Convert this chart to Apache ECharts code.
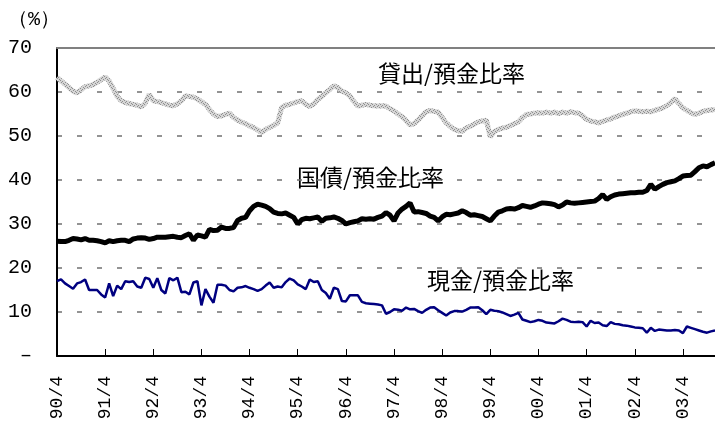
<!DOCTYPE html>
<html><head><meta charset="utf-8">
<script src="https://cdn.jsdelivr.net/npm/echarts@6/dist/echarts.min.js"></script>
<style>html,body{margin:0;padding:0;background:#fff}#c{width:715px;height:423px}</style>
</head><body><div id="c"></div>
<script>
const startYear = 1990, startMonth = 4, monthCount = 165;
const seriesNames = ['貸出/預金比率', '国債/預金比率', '現金/預金比率'];
const unitLabel = '（%）';
const yMin = 0, yMax = 70, yStep = 10;

const loanRatio = [
63.3, 62.5, 61.8, 61.0, 60.2, 59.8, 60.5, 61.2, 61.4, 61.7,
62.2, 62.8, 63.4, 62.5, 60.8, 59.0, 58.0, 57.6, 57.4, 57.2,
57.0, 56.6, 57.5, 59.5, 58.0, 57.8, 57.6, 57.3, 57.0, 56.9,
57.3, 58.0, 59.1, 59.0, 58.8, 58.4, 57.8, 57.2, 56.0, 55.0,
54.4, 54.6, 54.9, 55.2, 54.2, 53.6, 53.2, 52.8, 52.3, 51.9,
51.4, 50.8, 51.5, 52.0, 52.4, 53.0, 56.5, 57.0, 57.2, 57.5,
57.8, 58.0, 57.2, 56.7, 57.3, 58.3, 59.0, 59.8, 60.6, 61.4,
61.0, 60.2, 59.8, 59.1, 57.8, 56.8, 57.0, 57.2, 57.0, 56.9,
56.8, 56.9, 56.8, 56.2, 55.7, 55.0, 54.4, 53.5, 52.5, 52.8,
53.6, 54.6, 55.5, 55.8, 55.6, 55.4, 54.2, 53.0, 52.2, 51.5,
51.2, 51.1, 51.8, 52.2, 52.7, 53.2, 53.4, 53.6, 49.8, 51.0,
51.5, 51.8, 52.0, 52.4, 52.8, 53.2, 54.2, 54.9, 55.0, 55.2,
55.3, 55.2, 55.4, 55.2, 55.4, 55.1, 55.4, 55.2, 55.5, 55.3,
55.2, 54.6, 53.8, 53.4, 53.2, 53.0, 53.3, 53.6, 53.9, 54.3,
54.6, 54.9, 55.2, 55.5, 55.7, 55.6, 55.5, 55.6, 55.5, 55.8,
56.1, 56.4, 56.9, 57.6, 58.5, 57.4, 56.4, 55.8, 55.3, 54.9,
55.2, 55.6, 55.8, 55.9, 56.0
];

const jgbRatio = [
26.1, 26.0, 26.0, 26.3, 26.7, 26.6, 26.4, 26.7, 26.3, 26.3,
26.2, 26.0, 25.7, 26.2, 26.0, 26.2, 26.3, 26.3, 26.0, 26.6,
26.8, 26.9, 26.8, 26.5, 26.7, 27.0, 27.0, 27.0, 27.1, 27.2,
27.0, 26.9, 27.4, 27.8, 26.3, 27.5, 27.3, 27.0, 28.8, 28.5,
28.6, 29.3, 29.0, 29.0, 29.2, 30.8, 31.3, 31.5, 33.0, 34.0,
34.5, 34.3, 34.0, 33.5, 32.7, 32.4, 32.3, 32.5, 32.0, 31.5,
30.0, 31.0, 31.3, 31.2, 31.4, 31.6, 30.6, 31.3, 31.4, 31.6,
31.3, 30.8, 30.0, 30.3, 30.5, 30.7, 31.2, 31.1, 31.2, 31.1,
31.5, 31.8, 32.6, 32.0, 30.7, 32.5, 33.4, 34.0, 34.8, 32.7,
32.8, 32.6, 32.4, 31.8, 31.5, 30.7, 31.6, 32.2, 32.1, 32.3,
32.5, 33.0, 32.6, 32.0, 32.1, 31.9, 31.7, 31.2, 30.7, 31.8,
32.7, 33.0, 33.4, 33.5, 33.4, 33.7, 34.2, 34.0, 33.8, 34.1,
34.5, 34.8, 34.7, 34.6, 34.4, 33.9, 34.3, 35.0, 34.8, 34.7,
34.8, 34.9, 35.0, 35.1, 35.2, 35.8, 36.7, 35.6, 36.2, 36.6,
36.8, 36.9, 37.0, 37.1, 37.1, 37.2, 37.2, 37.6, 39.0, 37.9,
38.5, 39.0, 39.4, 39.6, 39.8, 40.3, 40.9, 41.0, 41.1, 41.9,
42.8, 43.2, 43.0, 43.5, 43.9
];

const cashRatio = [
17.0, 17.4, 16.5, 15.9, 15.3, 16.5, 16.8, 17.4, 15.0, 15.0,
15.0, 14.0, 13.3, 16.5, 13.6, 16.0, 15.2, 17.0, 16.8, 17.0,
15.8, 15.5, 17.8, 17.5, 15.5, 17.7, 15.0, 14.2, 17.7, 17.2,
17.8, 14.5, 14.6, 14.0, 16.7, 17.0, 11.5, 15.2, 13.5, 12.1,
16.2, 16.2, 16.0, 15.0, 14.7, 15.5, 15.6, 15.9, 15.5, 15.2,
14.8, 15.2, 16.0, 16.7, 15.5, 15.8, 15.6, 16.8, 17.6, 17.2,
16.3, 15.8, 15.2, 17.4, 16.8, 17.0, 15.0, 14.3, 13.0, 15.5,
15.2, 12.5, 12.4, 13.8, 13.8, 13.8, 12.3, 12.0, 11.9, 11.8,
11.7, 11.5, 9.6, 10.0, 10.6, 10.5, 10.3, 11.0, 10.6, 10.7,
10.2, 9.8, 10.5, 11.0, 11.1, 10.4, 9.8, 9.2, 9.9, 10.2,
10.2, 10.1, 10.5, 11.0, 11.0, 11.1, 10.4, 9.5, 10.5, 10.3,
10.2, 9.9, 9.5, 9.1, 9.4, 9.8, 8.3, 8.0, 7.7, 7.9,
8.2, 8.0, 7.6, 7.5, 7.4, 7.9, 8.5, 8.2, 7.8, 7.7,
7.8, 7.7, 6.7, 8.0, 7.5, 7.6, 7.0, 6.8, 7.7, 7.3,
7.2, 7.0, 6.9, 6.7, 6.5, 6.4, 6.3, 5.3, 6.4, 5.7,
6.0, 5.9, 5.8, 5.8, 5.9, 5.8, 5.2, 6.7, 6.4, 6.1,
5.8, 5.5, 5.3, 5.6, 5.8
];

const categories = [];
for (let i = 0; i < monthCount; i++) {
  const k = startMonth - 1 + i;
  const m = k % 12 + 1;
  const y = (startYear + Math.floor(k / 12)) % 100;
  categories.push(String(y).padStart(2, '0') + '/' + m);
}
const isYearTick = (idx) => (idx % 12) === 0;

// hatched grey stroke pattern
const pc = document.createElement('canvas');
pc.width = 4; pc.height = 4;
const pctx = pc.getContext('2d');
pctx.fillStyle = '#d6d6d6'; pctx.fillRect(0, 0, 4, 4);
pctx.fillStyle = '#8e8e8e';
pctx.fillRect(0, 0, 1, 1); pctx.fillRect(2, 1, 1, 1); pctx.fillRect(1, 2, 1, 1); pctx.fillRect(3, 3, 1, 1);

const chart = echarts.init(document.getElementById('c'), null, { renderer: 'canvas' });
const monoFont = '"Liberation Mono", "DejaVu Sans Mono", monospace';
const jpFont = '"Noto Sans CJK JP", sans-serif';

chart.setOption({
  animation: false,
  backgroundColor: '#fff',
  grid: { left: 57, right: 0, top: 48, bottom: 67 },
  xAxis: [{
    type: 'category', data: categories, boundaryGap: false,
    axisLine: { lineStyle: { color: '#000', width: 2 } },
    axisTick: { inside: true, length: 7, interval: (i) => isYearTick(i), lineStyle: { color: '#000', width: 1 } },
    axisLabel: { interval: (i) => isYearTick(i), rotate: 90, margin: 20, color: '#000', fontSize: 18, fontFamily: monoFont },
    splitLine: { show: false }
  }, {
    type: 'category', data: categories, boundaryGap: false, position: 'top',
    axisLine: { lineStyle: { color: '#808080', width: 2 } },
    axisTick: { show: false }, axisLabel: { show: false }, splitLine: { show: false }
  }],
  yAxis: {
    type: 'value', min: yMin, max: yMax, interval: yStep,
    axisLine: { show: true, lineStyle: { color: '#000', width: 2 } },
    axisTick: { show: false },
    axisLabel: { margin: 25, color: '#000', fontSize: 20, fontFamily: monoFont,
      formatter: (v) => v === 0 ? '–' : String(v) },
    splitLine: { show: true, lineStyle: { color: '#707070', width: 1.5, type: [5, 15] } }
  },
  series: [
    { name: seriesNames[0], type: 'line', data: loanRatio, showSymbol: false, symbol: 'none',
      lineStyle: { width: 5, color: { image: pc, repeat: 'repeat' } }, z: 3 },
    { name: seriesNames[1], type: 'line', data: jgbRatio, showSymbol: false, symbol: 'none',
      lineStyle: { width: 5, color: '#000' }, z: 4 },
    { name: seriesNames[2], type: 'line', data: cashRatio, showSymbol: false, symbol: 'none',
      lineStyle: { width: 2.5, color: '#000080' }, z: 5 }
  ],
  graphic: [
    { type: 'text', left: 8, top: 10, style: { text: unitLabel, font: '20px ' + monoFont, fill: '#000' } },
    { type: 'text', left: 378, top: 62, style: { text: seriesNames[0], font: '23px ' + jpFont, fill: '#000' } },
    { type: 'text', left: 297, top: 166, style: { text: seriesNames[1], font: '23px ' + jpFont, fill: '#000' } },
    { type: 'text', left: 427, top: 269, style: { text: seriesNames[2], font: '23px ' + jpFont, fill: '#000' } }
  ]
});
</script></body></html>
